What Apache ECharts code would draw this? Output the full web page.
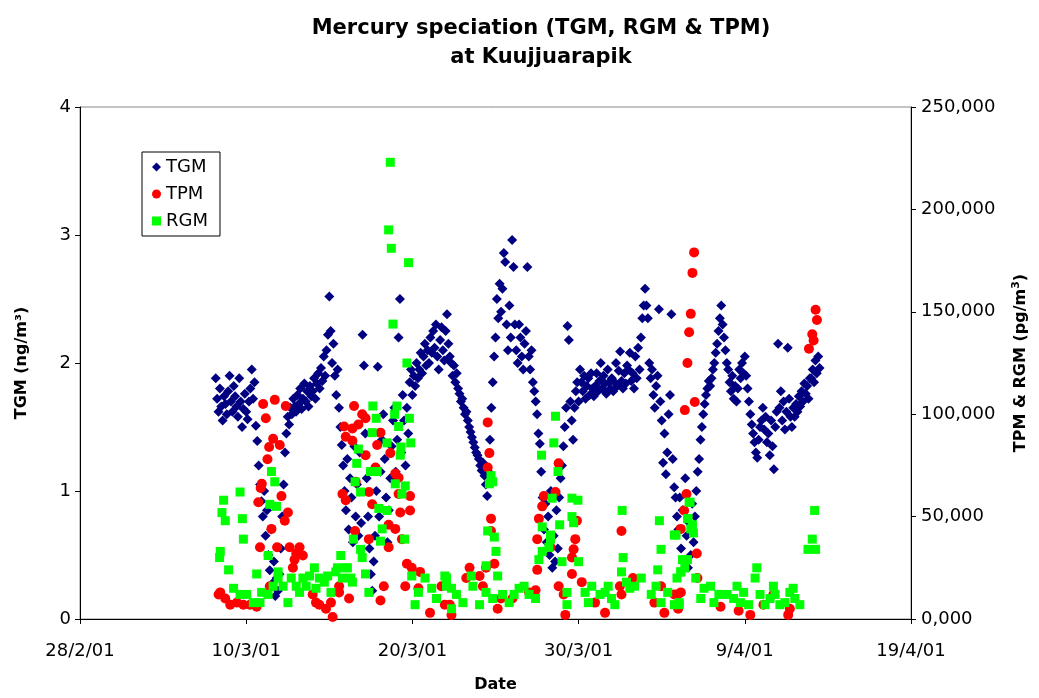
<!DOCTYPE html>
<html>
<head>
<meta charset="utf-8">
<script src="https://cdn.jsdelivr.net/npm/echarts@6/dist/echarts.min.js"></script>
<style>
html,body{margin:0;padding:0;background:#fff}
#main{width:1039px;height:698px}
</style>
</head>
<body>
<div id="main"></div>
<script>
// x values are days after 28/2/01 00:00 (so 10 = 10/3/01, 40 = 9/4/01)
const dateLabels = ['28/2/01', '10/3/01', '20/3/01', '30/3/01', '9/4/01', '19/4/01'];

// TGM (ng/m3), one reading every 2 h starting 8/3/01 04:00
const tgmStartDay = 8 + 4 / 24;
const tgmStepHours = 2;
const tgm = [
  1.88, 1.72, 1.62, 1.80, 1.66, 1.55, 1.74, 1.68, 1.60, 1.78,                   // 8/3
  1.90, 1.70, 1.62, 1.82, 1.74, 1.66, 1.58, 1.88, 1.70, 1.50, 1.64, 1.76,       // 9/3
  1.62, 1.56, 1.70, 1.80, 1.95, 1.72, 1.85, 1.51, 1.39, 1.20, 1.05, 0.92,       // 10/3
  0.80, 1.00, 0.65, 0.85, 0.50, 0.38, 0.70, 0.28, 0.45, 0.18, 0.32, 0.22,       // 11/3
  0.35, 0.55, 0.80, 1.05, 1.30, 1.45, 1.58, 1.52, 1.65, 1.60, 1.72, 1.66,       // 12/3
  1.62, 1.75, 1.68, 1.80, 1.64, 1.72, 1.84, 1.70, 1.78, 1.66, 1.82, 1.74,       // 13/3
  1.78, 1.88, 1.72, 1.84, 1.92, 1.80, 1.96, 1.86, 2.05, 1.90, 2.10, 2.22,       // 14/3
  2.52, 2.25, 2.00, 2.15, 1.90, 1.75, 1.95, 1.65, 1.50, 1.36, 1.20, 1.00,       // 15/3
  0.85, 1.25, 0.70, 1.10, 0.95, 0.60, 1.35, 0.80, 1.05, 0.65, 1.30, 0.75,       // 16/3
  2.22, 1.98, 1.45, 1.10, 0.80, 0.55, 0.35, 0.22, 0.45, 0.65, 1.00, 1.97,       // 17/3
  0.80, 1.15, 1.40, 1.60, 1.25, 0.95, 0.60, 0.85, 1.10, 1.35, 1.55, 1.65,       // 18/3
  1.15, 1.40, 2.20, 2.50, 1.30, 1.75, 1.55, 1.20, 1.65, 1.45, 1.85, 1.95,       // 19/3
  1.75, 1.90, 1.82, 2.00, 1.88, 1.95, 2.08, 1.92, 2.05, 2.15, 1.98, 2.10,       // 20/3
  2.00, 2.20, 2.08, 2.25, 2.12, 2.30, 2.05, 1.95, 2.18, 2.28, 2.10, 2.02,       // 21/3
  2.25, 2.38, 2.15, 2.05, 2.00, 1.90, 1.98, 1.85, 1.92, 1.80, 1.76, 1.70,       // 22/3
  1.72, 1.65, 1.60, 1.62, 1.55, 1.50, 1.46, 1.42, 1.38, 1.34, 1.30, 1.28,       // 23/3
  1.25, 1.20, 1.16, 1.22, 1.12, 1.05, 0.96, 1.15, 1.40, 1.65, 1.85, 2.05,       // 24/3
  2.20, 2.50, 2.35, 2.62, 2.40, 2.58, 2.86, 2.79, 2.30, 2.10, 2.45, 2.20,       // 25/3
  2.96, 2.75, 2.30, 2.10, 2.00, 2.30, 2.20, 2.05, 1.95, 2.15, 2.25, 2.75,       // 26/3
  2.05, 1.95, 2.10, 1.85, 1.78, 1.70, 1.60, 1.45, 1.37, 1.15, 0.95, 0.70,       // 27/3
  0.90, 0.60, 0.80, 0.50, 1.00, 0.40, 0.65, 0.45, 0.85, 0.55, 0.95, 1.10,       // 28/3
  1.20, 1.35, 1.50, 1.65, 2.29, 2.18, 1.70, 1.55, 1.40, 1.65, 1.78, 1.85,       // 29/3
  1.70, 1.95, 1.85, 1.78, 1.90, 1.72, 1.82, 1.88, 1.75, 1.92, 1.80, 1.74,       // 30/3
  1.82, 1.92, 1.78, 1.86, 2.00, 1.80, 1.90, 1.84, 1.76, 1.95, 1.85, 1.80,       // 31/3
  1.88, 1.78, 1.85, 2.00, 1.82, 1.94, 2.09, 1.86, 1.80, 1.92, 1.84, 1.98,       // 1/4
  1.95, 2.08, 1.86, 1.92, 1.80, 2.05, 1.88, 2.12, 1.95, 2.20, 2.35, 2.45,       // 2/4
  2.58, 2.45, 2.35, 2.00, 1.88, 1.95, 1.75, 1.65, 1.82, 1.90, 2.42, 1.70,       // 3/4
  1.55, 1.22, 1.45, 1.13, 1.30, 1.60, 1.75, 2.38, 1.25, 1.03, 0.95, 0.80,       // 4/4
  0.70, 0.95, 0.55, 0.85, 0.45, 1.10, 0.65, 0.40, 0.75, 0.50, 0.90, 0.60,       // 5/4
  0.80, 1.00, 1.15, 1.25, 1.40, 1.50, 1.60, 1.68, 1.75, 1.80, 1.86, 1.82,       // 6/4
  1.88, 1.95, 2.00, 2.08, 2.15, 2.25, 2.35, 2.45, 2.30, 2.20, 2.10, 2.00,       // 7/4
  1.95, 1.85, 1.78, 1.90, 1.72, 1.82, 1.70, 1.80, 1.95, 1.88, 2.00, 1.92,       // 8/4
  2.05, 1.90, 1.80, 1.70, 1.60, 1.52, 1.45, 1.38, 1.30, 1.26, 1.40, 1.50,       // 9/4
  1.55, 1.65, 1.48, 1.58, 1.38, 1.45, 1.28, 1.55, 1.35, 1.17, 1.50, 1.62,       // 10/4
  2.15, 1.65, 1.78, 1.55, 1.70, 1.48, 1.62, 2.12, 1.72, 1.58, 1.50, 1.65,       // 11/4
  1.58, 1.68, 1.62, 1.74, 1.66, 1.78, 1.70, 1.84, 1.76, 1.82, 1.72, 1.88,       // 12/4
  1.88, 1.95, 1.85, 2.02, 1.92, 2.05, 1.96                                      // 13/4
];

// TPM (pg/m3): [day, value]
const tpm = [
  [8.34, 12], [8.44, 13], [8.74, 10], [9.04, 7], [9.44, 8], [9.83, 7], [10.23, 7], [10.63, 6],
  [11.72, 107], [11.02, 105], [12.38, 104], [11.18, 98], [11.62, 88], [11.38, 84], [12.02, 85],
  [11.28, 78], [10.94, 66], [10.87, 64], [10.73, 57], [12.12, 60], [12.51, 52], [12.32, 48],
  [11.52, 44], [10.83, 35], [11.86, 35], [12.61, 35], [13.21, 35], [13.01, 32], [13.41, 31],
  [12.91, 29], [12.81, 25], [11.42, 16],
  [14.00, 12], [14.20, 8], [14.40, 7], [14.80, 5], [15.10, 8], [15.20, 1], [15.59, 13],
  [16.49, 104], [16.98, 100], [17.18, 98], [15.89, 94], [16.39, 93], [16.75, 95], [15.99, 89],
  [16.39, 87], [18.08, 91], [17.88, 85], [18.67, 81], [17.18, 80], [16.59, 67], [17.78, 74],
  [18.97, 71], [19.17, 69], [15.79, 61], [15.99, 58], [17.38, 62], [17.58, 56], [19.17, 61],
  [19.86, 60], [19.27, 52], [19.86, 53], [16.55, 43], [17.38, 39], [18.57, 46], [18.97, 44],
  [18.57, 35], [19.37, 39], [19.67, 27], [19.96, 25], [20.46, 23], [19.57, 16], [18.28, 16],
  [18.08, 9], [16.19, 10], [15.59, 16], [20.36, 15], [21.06, 3], [21.95, 7], [22.35, 2],
  [24.53, 96], [24.63, 81], [24.53, 74], [24.73, 49], [24.73, 43], [24.93, 27], [24.43, 25],
  [23.44, 25], [23.24, 20], [24.04, 21], [24.24, 16], [21.75, 16], [22.25, 7], [25.33, 10],
  [25.13, 5], [26.02, 10], [27.02, 13], [27.41, 14],
  [28.80, 76], [28.61, 62], [27.91, 60], [27.81, 55], [27.61, 49], [27.51, 39], [28.31, 35],
  [27.51, 24], [29.90, 48], [29.80, 39], [29.70, 34], [29.60, 30], [29.60, 22], [28.80, 16],
  [29.10, 12], [29.20, 2], [30.19, 18], [30.99, 8], [31.59, 3], [32.58, 43], [32.48, 16],
  [32.58, 12], [33.27, 20], [34.56, 8], [34.96, 16], [35.16, 3], [35.76, 12], [36.15, 13],
  [36.95, 179], [36.85, 169], [36.75, 149], [36.65, 140], [36.55, 125], [36.99, 106], [36.39, 102],
  [36.49, 61], [36.35, 53], [36.15, 44], [37.11, 32], [35.96, 12], [35.99, 5], [37.15, 20],
  [38.54, 6], [39.63, 4], [40.33, 2], [41.12, 7], [41.72, 12], [42.61, 2], [42.71, 5],
  [43.86, 132], [44.06, 139], [44.14, 136], [44.26, 151], [44.34, 146]
];

// RGM (pg/m3): [day, value]
const rgm = [
  [9.63, 62], [8.64, 58], [8.54, 52], [8.74, 48], [9.77, 49], [9.83, 39], [8.44, 33], [8.40, 30],
  [8.94, 24], [11.52, 72], [11.72, 67], [11.42, 56], [11.82, 55], [11.32, 31], [10.63, 22], [11.92, 23],
  [9.24, 15], [10.03, 12], [10.43, 8], [10.93, 13], [11.32, 12], [11.92, 20], [12.22, 16], [12.51, 8],
  [13.01, 16], [13.41, 20], [13.81, 21], [14.10, 25], [14.40, 20], [14.70, 18], [15.10, 13], [15.39, 23],
  [15.79, 20], [15.99, 25], [16.39, 18], [9.63, 12], [10.83, 8], [11.62, 16], [12.71, 20], [13.21, 13],
  [13.61, 16], [14.20, 15], [14.90, 21],
  [18.67, 223], [18.57, 190], [18.73, 181], [19.77, 174], [18.83, 144], [19.67, 125],
  [17.62, 104], [17.82, 98], [19.07, 104], [18.93, 100], [19.82, 98], [19.17, 94], [18.47, 86],
  [17.58, 91], [19.90, 86], [19.31, 84], [19.27, 80], [16.75, 83], [16.65, 76], [17.48, 72],
  [17.88, 72], [16.55, 67], [16.88, 62], [18.97, 66], [19.57, 65], [19.37, 61], [17.98, 54],
  [18.47, 53], [18.18, 44], [18.08, 38], [19.53, 39], [16.45, 39], [16.88, 34], [16.98, 30],
  [15.69, 31], [15.49, 25], [16.09, 25], [16.29, 20], [17.38, 13], [17.18, 22],
  [19.96, 21], [20.36, 13], [20.76, 20], [21.16, 15], [21.45, 10], [22.05, 20], [22.35, 5], [20.16, 7],
  [24.73, 70], [24.63, 66], [24.83, 67], [24.53, 43], [24.93, 40], [25.03, 33], [24.43, 26], [25.13, 21],
  [28.61, 99], [28.51, 86], [27.77, 80], [28.76, 72], [28.41, 59], [27.81, 45], [28.31, 39], [27.81, 33],
  [27.61, 29], [28.21, 35], [28.31, 41], [28.86, 46], [29.00, 28], [29.60, 59], [29.96, 58], [29.60, 50],
  [29.70, 47], [30.00, 28], [29.30, 13], [29.30, 7],
  [32.62, 53], [32.68, 30], [32.58, 23], [32.88, 18], [33.08, 15], [34.86, 48], [34.96, 34], [34.76, 24],
  [35.76, 41], [36.25, 29], [36.15, 23], [36.65, 57], [36.55, 49], [36.75, 44],
  [21.95, 21], [22.05, 16], [22.65, 12], [23.64, 16], [23.54, 21], [24.04, 7], [24.43, 13], [25.43, 12],
  [25.82, 8], [26.42, 15], [27.02, 12], [27.41, 10], [30.39, 13], [30.79, 16], [31.29, 12], [31.78, 16],
  [32.18, 7], [33.37, 16], [33.77, 20], [34.66, 16], [35.36, 13], [35.76, 7], [36.05, 8],
  [22.35, 15], [23.04, 8], [24.83, 10], [26.12, 12], [26.72, 16], [30.59, 8], [31.59, 13], [31.98, 10],
  [34.37, 12], [34.96, 8],
  [36.71, 57], [36.59, 49], [36.85, 46], [36.91, 42], [36.55, 29], [36.39, 25], [36.15, 23], [35.86, 41],
  [35.92, 20], [36.05, 7],
  [37.05, 20], [37.55, 15], [37.94, 16], [38.44, 12], [38.94, 12], [39.53, 16], [39.73, 8], [40.23, 7],
  [40.62, 20], [40.72, 25], [41.22, 7], [41.72, 16], [41.82, 12], [42.11, 7], [42.71, 13], [43.01, 10],
  [43.31, 7], [37.35, 10], [38.14, 8], [39.33, 10], [39.93, 13], [40.92, 12], [41.52, 10], [42.41, 8],
  [42.91, 15],
  [44.20, 53], [44.06, 39], [44.26, 34], [43.80, 34]
];

const font = 'DejaVu Sans';
const tgmData = tgm.map((v, i) => [tgmStartDay + i * tgmStepHours / 24, v]);

const chart = echarts.init(document.getElementById('main'));
chart.setOption({
  animation: false,
  backgroundColor: '#fff',
  textStyle: { fontFamily: font, color: '#000' },
  graphic: [
    { type: 'text', x: 541, y: 29, style: { text: 'Mercury speciation (TGM, RGM & TPM)', align: 'center', verticalAlign: 'middle', fontFamily: font, fontSize: 21, fontWeight: 'bold', fill: '#000' } },
    { type: 'text', x: 541, y: 58, style: { text: 'at Kuujjuarapik', align: 'center', verticalAlign: 'middle', fontFamily: font, fontSize: 21, fontWeight: 'bold', fill: '#000' } }
  ],
  legend: {
    orient: 'vertical',
    left: 142,
    top: 152,
    padding: [6, 12, 6, 10],
    itemGap: 9,
    itemWidth: 9,
    itemHeight: 9,
    borderColor: '#000',
    borderWidth: 1,
    backgroundColor: '#fff',
    textStyle: { fontFamily: font, fontSize: 18, lineHeight: 18, color: '#000' },
    data: [
      { name: 'TGM', icon: 'diamond' },
      { name: 'TPM', icon: 'circle' },
      { name: 'RGM', icon: 'rect' }
    ]
  },
  grid: { left: 80, right: 120, top: 107, bottom: 69, show: true, borderColor: '#888', borderWidth: 1 },
  xAxis: {
    type: 'value',
    min: 0,
    max: 50,
    interval: 10,
    name: 'Date',
    nameLocation: 'middle',
    nameGap: 58,
    nameTextStyle: { fontFamily: font, fontSize: 16, fontWeight: 'bold', color: '#000' },
    axisLine: { lineStyle: { color: '#000', width: 1 } },
    axisTick: { length: 5, lineStyle: { color: '#000' } },
    axisLabel: { margin: 23, fontSize: 18, color: '#000', formatter: v => dateLabels[Math.round(v / 10)] },
    splitLine: { show: false }
  },
  yAxis: [
    {
      type: 'value',
      min: 0,
      max: 4,
      interval: 1,
      name: 'TGM (ng/m³)',
      nameLocation: 'middle',
      nameGap: 50,
      nameTextStyle: { fontFamily: font, fontSize: 16, fontWeight: 'bold', color: '#000' },
      axisLine: { show: true, lineStyle: { color: '#000', width: 1 } },
      axisTick: { show: true, length: 5, lineStyle: { color: '#000' } },
      axisLabel: { margin: 9, fontSize: 18, color: '#000' },
      splitLine: { show: false }
    },
    {
      type: 'value',
      min: 0,
      max: 250,
      interval: 50,
      position: 'right',
      name: 'TPM & RGM (pg/m{sup|3})',
      nameLocation: 'middle',
      nameGap: 100,
      nameTextStyle: {
        fontFamily: font, fontSize: 16, fontWeight: 'bold', color: '#000', lineHeight: 20,
        rich: { sup: { fontFamily: font, fontSize: 11, fontWeight: 'bold', color: '#000', verticalAlign: 'top', lineHeight: 20 } }
      },
      axisLine: { show: true, lineStyle: { color: '#000', width: 1 } },
      axisTick: { show: true, length: 5, lineStyle: { color: '#000' } },
      axisLabel: { margin: 10, fontSize: 18, color: '#000', formatter: v => v.toFixed(3).replace('.', ',') },
      splitLine: { show: false }
    }
  ],
  series: [
    { name: 'TGM', type: 'scatter', yAxisIndex: 0, symbol: 'diamond', symbolSize: 10, itemStyle: { color: '#000080', opacity: 1 }, data: tgmData, silent: true },
    { name: 'TPM', type: 'scatter', yAxisIndex: 1, symbol: 'circle', symbolSize: 10, itemStyle: { color: '#FF0000', opacity: 1 }, data: tpm, silent: true },
    { name: 'RGM', type: 'scatter', yAxisIndex: 1, symbol: 'rect', symbolSize: 9, itemStyle: { color: '#00FF00', opacity: 1 }, data: rgm, silent: true }
  ]
});
</script>
</body>
</html>
